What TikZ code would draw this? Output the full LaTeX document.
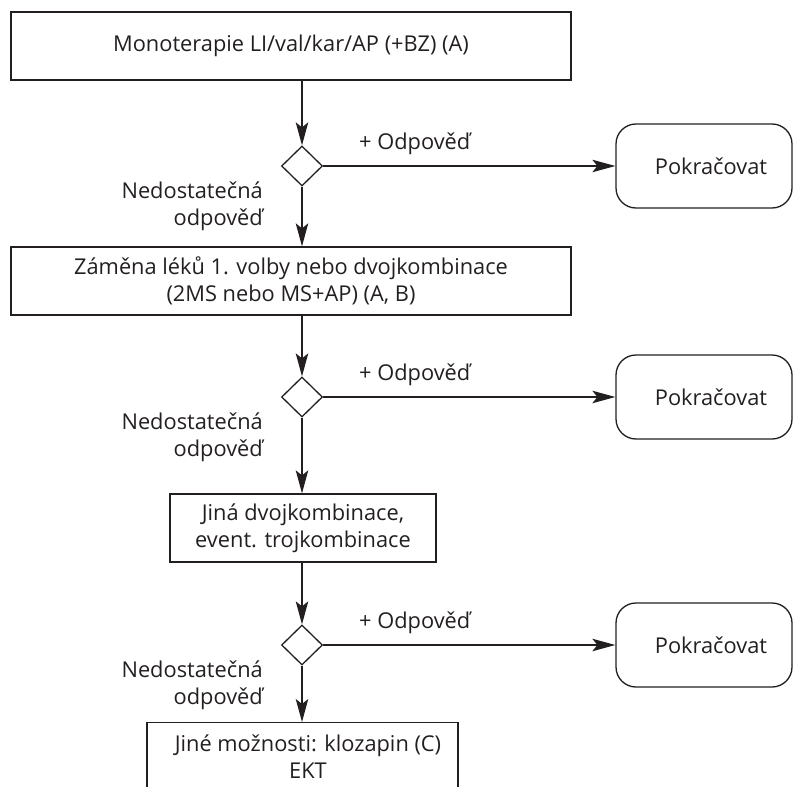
\documentclass[tikz,border=0pt]{standalone}
\usepackage{fontspec}
\setmainfont{Open Sans}
\usetikzlibrary{arrows.meta,shapes.geometric}
\definecolor{ink}{HTML}{231F20}
\begin{document}
\begin{tikzpicture}[x=1pt,y=-1pt,
  font=\fontsize{21.8}{27}\selectfont,
  every node/.style={text=ink},
  line/.style={draw=ink, line width=1.3pt},
  flow/.style={line, -{Stealth[length=23pt,width=12.5pt,inset=5pt]}},
  stepbox/.style={line, rectangle, inner sep=0pt, align=center},
  choice/.style={line, diamond, minimum width=41pt, minimum height=40pt, inner sep=0pt},
  endbox/.style={line, rectangle, rounded corners=20pt, minimum width=176pt,
    minimum height=84pt, inner sep=0pt},
  sidelabel/.style={align=right, inner sep=0pt, anchor=east},
  yeslabel/.style={inner sep=0pt, anchor=base west},
]
\useasboundingbox (0,0) rectangle (793,787);
\clip (0,0) rectangle (793,787);

% treatment steps
\node[stepbox, minimum width=560pt, minimum height=68pt] (b1) at (291,46)
  {Monoterapie LI/val/kar/AP (+BZ) (A)};
\node[stepbox, minimum width=560pt, minimum height=68pt] (b2) at (291,281)
  {Záměna léků 1. volby nebo dvojkombinace\\(2MS nebo MS+AP) (A, B)};
\node[stepbox, minimum width=266pt, minimum height=68pt] (b3) at (303,528)
  {Jiná dvojkombinace,\\event. trojkombinace};
\node[stepbox, minimum width=311pt, minimum height=100pt, anchor=north] (b4) at (302.5,722) {};
\node[align=center, inner sep=0pt] (b4t) at (308,757)
  {Jiné možnosti: klozapin (C)\\EKT};

% decisions
\node[choice] (d1) at (302,166) {};
\node[choice] (d2) at (302,397) {};
\node[choice] (d3) at (302,645) {};

% continue boxes
\node[endbox] (r1) at (704,166) {\hspace*{14pt}Pokračovat};
\node[endbox] (r2) at (704,397) {\hspace*{14pt}Pokračovat};
\node[endbox] (r3) at (704,645) {\hspace*{14pt}Pokračovat};

% vertical flow
\draw[flow] (b1.south -| d1) -- (d1.north);
\draw[flow] (d1.south) -- (b2.north -| d1);
\draw[flow] (b2.south -| d2) -- (d2.north);
\draw[flow] (d2.south) -- (b3.north -| d2);
\draw[flow] (b3.south -| d3) -- (d3.north);
\draw[flow] (d3.south) -- (b4.north -| d3);

% response branches
\draw[flow] (d1.east) -- (r1.west);
\draw[flow] (d2.east) -- (r2.west);
\draw[flow] (d3.east) -- (r3.west);

% branch labels
\node[yeslabel] (y1) at (359,149) {+ Odpověď};
\node[yeslabel] (y2) at (359,380) {+ Odpověď};
\node[yeslabel] (y3) at (359,628) {+ Odpověď};
\node[sidelabel] (n1) at (263,206) {Nedostatečná\\odpověď};
\node[sidelabel] (n2) at (263,437) {Nedostatečná\\odpověď};
\node[sidelabel] (n3) at (263,685) {Nedostatečná\\odpověď};
\end{tikzpicture}
\end{document}
